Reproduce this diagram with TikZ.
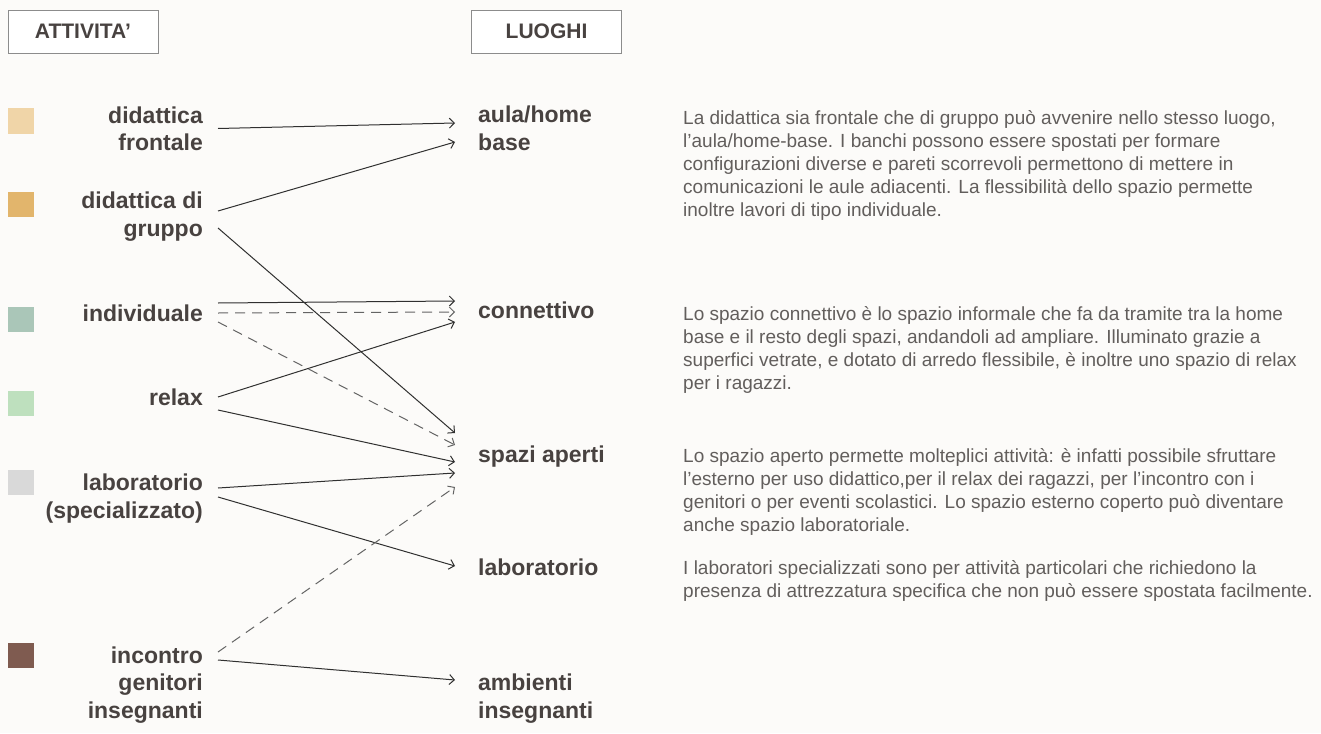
\documentclass[tikz,border=0pt]{standalone}
\usepackage{fontspec}
\setmainfont{Liberation Sans}
\usetikzlibrary{arrows.meta}
\definecolor{mpbg}{RGB}{252,251,249}
\definecolor{mpink}{RGB}{72,66,64}
\definecolor{mptxt}{RGB}{98,94,92}
\definecolor{mpline}{RGB}{48,48,48}
\definecolor{mpedge}{RGB}{140,140,140}
\definecolor{actfro}{RGB}{240,213,168}
\definecolor{actgru}{RGB}{226,181,108}
\definecolor{actind}{RGB}{170,198,184}
\definecolor{actrel}{RGB}{190,224,190}
\definecolor{actlab}{RGB}{217,217,217}
\definecolor{actinc}{RGB}{127,91,80}
\tikzset{
  head/.style={
    draw=mpedge, fill=white, line width=0.8pt,
    minimum width=150pt, minimum height=43pt,
    font=\fontsize{21}{23}\selectfont\bfseries, text=mpink
  },
  act/.style={
    anchor=base east, align=right, inner sep=0pt,
    font=\fontsize{23}{27.5}\selectfont\bfseries, text=mpink
  },
  plc/.style={
    anchor=base west, align=left, inner sep=0pt,
    font=\fontsize{23}{27.5}\selectfont\bfseries, text=mpink
  },
  swatch/.style={minimum width=26pt, minimum height=25pt, inner sep=0pt},
  desc/.style={
    anchor=base west, align=left, inner sep=0pt,
    font=\fontsize{19}{23.2}\selectfont, text=mptxt
  },
  arr/.style={-{Straight Barb[length=5pt,width=10pt]}, draw=mpline, line width=1pt},
  darr/.style={arr, draw=mpline!75, dash pattern=on 10pt off 7pt}
}
\begin{document}
\begin{tikzpicture}[x=1pt, y=-1pt]
  \fill[mpbg] (0,0) rectangle (1321,733);
  \useasboundingbox (0,0) rectangle (1321,733);

  \node[head] (hatt) at (83,31.5) {ATTIVITA’};
  \node[head] (hluo) at (546.5,31.5) {LUOGHI};

  \foreach \n/\c/\y in {sfro/actfro/121, sgru/actgru/204.5, sind/actind/319,
                        srel/actrel/403.5, slab/actlab/482, sinc/actinc/655}
    \node[swatch, fill=\c] (\n) at (21,\y) {};

  \node[act] (fro) at (203,150.5) {didattica\\frontale};
  \node[act] (gru) at (203,236) {didattica di\\gruppo};
  \node[act] (ind) at (203,321) {individuale};
  \node[act] (rel) at (203,405) {relax};
  \node[act] (lab) at (203,518) {laboratorio\\(specializzato)};
  \node[act] (inc) at (203,718) {incontro\\genitori\\insegnanti};

  \node[plc] (aula) at (478,150) {aula/home\\base};
  \node[plc] (con) at (478,318) {connettivo};
  \node[plc] (spa) at (478,462) {spazi aperti};
  \node[plc] (labr) at (478,575) {laboratorio};
  \node[plc] (amb) at (478,718) {ambienti\\insegnanti};

  \foreach \a/\da/\b/\db in {fro/-22/aula/-27, gru/-25/aula/-8, gru/-8/spa/-29,
                             ind/-18/con/-17, rel/-8/con/4, rel/5/spa/0,
                             lab/-30/spa/11, lab/-21/labr/-9, inc/-58/amb/-38}
    \draw[arr] ([shift={(15,\da)}]\a.base east) -- ([shift={(-23,\db)}]\b.base west);
  \foreach \a/\da/\b/\db in {ind/-8/con/-6, ind/1/spa/-17, inc/-66/spa/25}
    \draw[darr] ([shift={(15,\da)}]\a.base east) -- ([shift={(-23,\db)}]\b.base west);

  \node[desc] (taula) at (683,216.8) {La didattica sia frontale che di gruppo può avvenire nello stesso luogo,\\
    l’aula/home-base. I banchi possono essere spostati per formare\\
    configurazioni diverse e pareti scorrevoli permettono di mettere in\\
    comunicazioni le aule adiacenti. La flessibilità dello spazio permette\\
    inoltre lavori di tipo individuale.};
  \node[desc] (tcon) at (683,389.6) {Lo spazio connettivo è lo spazio informale che fa da tramite tra la home\\
    base e il resto degli spazi, andandoli ad ampliare. Illuminato grazie a\\
    superfici vetrate, e dotato di arredo flessibile, è inoltre uno spazio di relax\\
    per i ragazzi.};
  \node[desc] (tspa) at (683,531.6) {Lo spazio aperto permette molteplici attività: è infatti possibile sfruttare\\
    l’esterno per uso didattico,per il relax dei ragazzi, per l’incontro con i\\
    genitori o per eventi scolastici. Lo spazio esterno coperto può diventare\\
    anche spazio laboratoriale.};
  \node[desc] (tlab) at (683,597.2) {I laboratori specializzati sono per attività particolari che richiedono la\\
    presenza di attrezzatura specifica che non può essere spostata facilmente.};
\end{tikzpicture}
\end{document}
